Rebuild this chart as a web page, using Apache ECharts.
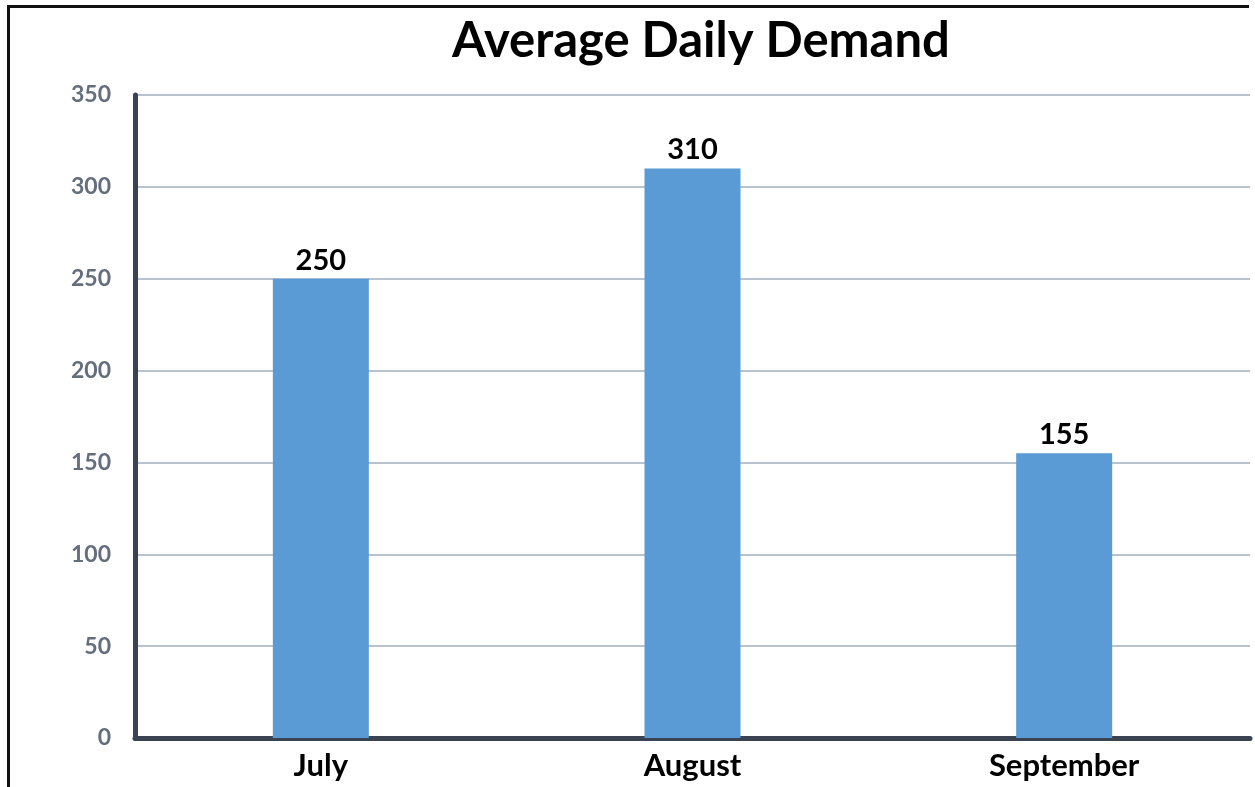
<!DOCTYPE html>
<html>
<head>
<meta charset="utf-8">
<title>Average Daily Demand</title>
<script src="https://cdn.jsdelivr.net/npm/echarts@6/dist/echarts.min.js"></script>
<style>
  html, body { margin: 0; padding: 0; background: #fff; }
  #chart { width: 1255px; height: 787px; }
  /* frame line round the picture (top and left only) */
  #frame {
    position: absolute; left: 7px; top: 5px; width: 1242px; height: 782px;
    border-top: 3px solid #111; border-left: 3px solid #111;
    box-sizing: border-box; pointer-events: none;
  }
</style>
</head>
<body>
<div id="chart"></div>
<div id="frame"></div>
<script>
var months = ['July', 'August', 'September'];
var demand = [250, 310, 155];
var yTicks = [0, 50, 100, 150, 200, 250, 300, 350];

var myChart = echarts.init(document.getElementById('chart'));
var option = {
  animation: false,
  title: {
    text: 'Average Daily Demand',
    left: 447,
    top: 12,
    textStyle: { fontFamily: 'Lato', fontWeight: 'bold', fontSize: 49, color: '#000' }
  },
  grid: { left: 135, right: 5, top: 95, bottom: 49 },
  xAxis: {
    type: 'category',
    data: months,
    axisLine: { lineStyle: { color: '#3a4352', width: 5, cap: 'round' } },
    axisTick: { show: false },
    axisLabel: {
      margin: 12,
      color: '#000',
      fontFamily: 'Lato',
      fontWeight: 'bold',
      fontSize: 31
    }
  },
  yAxis: {
    type: 'value',
    min: yTicks[0],
    max: yTicks[yTicks.length - 1],
    interval: 50,
    axisLine: { show: true, lineStyle: { color: '#3a4352', width: 5, cap: 'round' } },
    axisTick: { show: false },
    axisLabel: {
      margin: 24,
      color: '#646e7c',
      fontFamily: 'Lato',
      fontWeight: 'bold',
      fontSize: 23
    },
    splitLine: { lineStyle: { color: '#b9c3ce', width: 2 } }
  },
  series: [{
    type: 'bar',
    data: demand,
    barWidth: 96,
    itemStyle: { color: '#5b9bd5' },
    label: {
      show: true,
      position: 'top',
      distance: 4,
      color: '#000',
      fontFamily: 'Lato',
      fontWeight: 'bold',
      fontSize: 29
    }
  }]
};
myChart.setOption(option);
</script>
</body>
</html>
